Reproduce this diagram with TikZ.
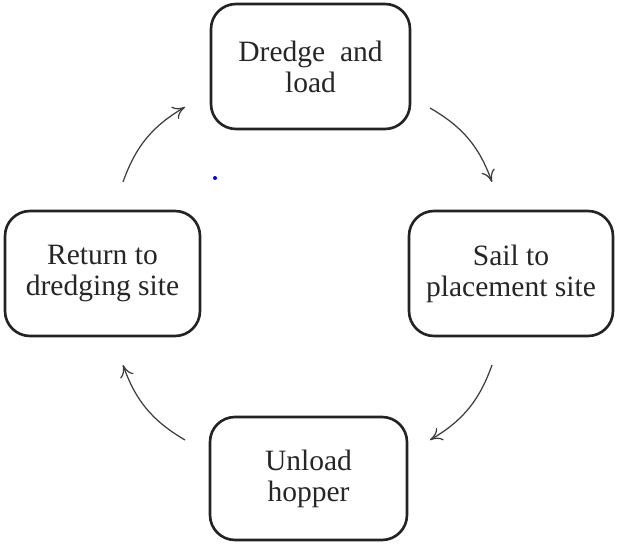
\documentclass[tikz,border=0pt]{standalone}
\usepackage{fontspec}
\setmainfont{Liberation Serif}
\usepackage{tikz}
\usetikzlibrary{arrows.meta,positioning}
\definecolor{boxline}{RGB}{35,35,35}
\definecolor{arrline}{RGB}{60,60,60}

\begin{document}
\begin{tikzpicture}[font=\fontsize{16.8}{17.6}\selectfont]
\tikzset{stage/.style={draw=boxline,line width=1.5pt,rounded corners=0.5cm,minimum height=2.5cm,align=center,text=black!85}}
\tikzset{cyc/.style={-{To[length=2.4mm,width=2.8mm]},arrline,line width=0.7pt,bend left=20}}
\useasboundingbox (0,0) rectangle (12.34,10.9);
\node[stage,minimum width=3.98cm] (dredge) at (6.21,9.57) {Dredge~ and\\load};
\node[stage,minimum width=4.08cm] (sail) at (10.22,5.43) {Sail to\\placement site};
\node[stage,minimum width=3.94cm,minimum height=2.46cm] (unload) at (6.17,1.33) {Unload\\hopper};
\node[stage,minimum width=3.9cm] (ret) at (2.05,5.43) {Return to\\dredging site};
% arrow ends
\coordinate (r1) at (2.46,7.26);
\coordinate (d1) at (3.70,8.76);
\coordinate (d2) at (8.60,8.74);
\coordinate (s1) at (9.84,7.26);
\coordinate (s2) at (9.84,3.60);
\coordinate (u1) at (8.60,2.10);
\coordinate (u2) at (3.70,2.10);
\coordinate (r2) at (2.46,3.60);
\draw[cyc] (r1) to (d1);
\draw[cyc] (d2) to (s1);
\draw[cyc] (s2) to (u1);
\draw[cyc] (u2) to (r2);
\fill[blue] (4.30,7.34) circle (0.04);
\end{tikzpicture}
\end{document}
